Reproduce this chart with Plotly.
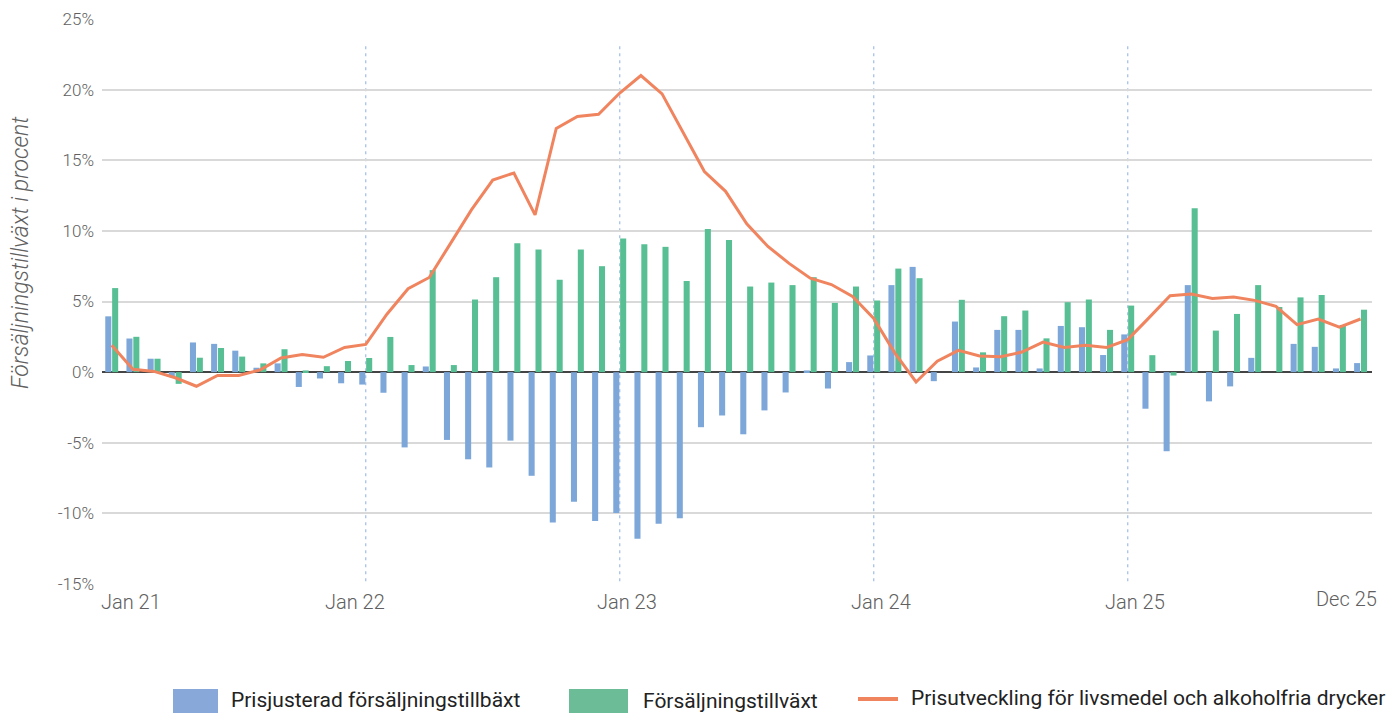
import plotly.graph_objects as go

months = [f"{m} {y}" for y in ["21", "22", "23", "24", "25"]
          for m in ["Jan", "Feb", "Mar", "Apr", "May", "Jun", "Jul", "Aug", "Sep", "Oct", "Nov", "Dec"]]

prisjusterad = [3.95, 2.38, 0.95, -0.30, 2.10, 2.00, 1.52, 0.31, 0.62, -1.05, -0.45, -0.79,
                -0.88, -1.46, -5.33, 0.40, -4.80, -6.17, -6.75, -4.85, -7.34, -10.64, -9.18, -10.54,
                -9.98, -11.80, -10.73, -10.35, -3.90, -3.07, -4.40, -2.71, -1.44, 0.12, -1.16, 0.71,
                1.18, 6.16, 7.45, -0.64, 3.58, 0.33, 2.99, 2.99, 0.26, 3.27, 3.18, 1.21,
                2.67, -2.59, -5.60, 6.16, -2.07, -1.01, 1.01, 0.00, 2.00, 1.79, 0.26, 0.64]

forsaljning = [5.95, 2.50, 0.95, -0.83, 1.02, 1.71, 1.10, 0.62, 1.62, 0.12, 0.42, 0.79,
               1.00, 2.49, 0.50, 7.22, 0.50, 5.14, 6.72, 9.12, 8.68, 6.54, 8.68, 7.50,
               9.46, 9.06, 8.87, 6.45, 10.13, 9.36, 6.06, 6.34, 6.16, 6.72, 4.90, 6.06,
               5.07, 7.33, 6.65, 0.00, 5.12, 1.40, 3.96, 4.36, 2.39, 4.95, 5.14, 2.99,
               4.71, 1.20, -0.24, 11.60, 2.94, 4.12, 6.16, 4.61, 5.29, 5.46, 3.34, 4.42]

prisutveckling = [1.90, 0.20, 0.05, -0.40, -1.00, -0.24, -0.24, 0.15, 1.00, 1.25, 1.05, 1.75,
                  1.96, 4.10, 5.90, 6.70, 9.10, 11.50, 13.60, 14.10, 11.13, 17.25, 18.10, 18.26,
                  19.76, 21.00, 19.70, 16.90, 14.20, 12.80, 10.50, 8.90, 7.70, 6.65, 6.20, 5.35,
                  3.80, 1.35, -0.70, 0.78, 1.54, 1.14, 1.09, 1.42, 2.13, 1.75, 1.90, 1.75,
                  2.30, 3.84, 5.41, 5.53, 5.22, 5.32, 5.08, 4.66, 3.36, 3.76, 3.18, 3.76]

x_tick_labels = ["Jan 21", "Jan 22", "Jan 23", "Jan 24", "Jan 25", "Dec 25"]
y_tick_values = [-15, -10, -5, 0, 5, 10, 15, 20, 25]
y_tick_labels = [f"{v}%" for v in y_tick_values]
legend_labels = ["Prisjusterad försäljningstillbäxt", "Försäljningstillväxt",
                 "Prisutveckling för livsmedel och alkoholfria drycker"]

BLUE = "#7DA7D9"
GREEN = "#57BF93"
ORANGE = "#F0845F"
BLUE_LEG = "#87A8D8"
GREEN_LEG = "#6DBC98"
FONT = "Roboto, 'Open Sans', sans-serif"
GREY = "#606060"

x = list(range(len(months)))

fig = go.Figure()
fig.add_trace(go.Bar(x=x, y=prisjusterad, name=legend_labels[0], marker_color=BLUE,
                     marker_line_width=0, hovertext=months))
fig.add_trace(go.Bar(x=x, y=forsaljning, name=legend_labels[1], marker_color=GREEN,
                     marker_line_width=0, hovertext=months))
fig.add_trace(go.Scatter(x=x, y=prisutveckling, name=legend_labels[2], mode="lines",
                         line=dict(color=ORANGE, width=3), hovertext=months))

# Page geometry: the page body has an 8px margin, so the figure is offset by 8px.
OFF = 8
W, H = 1394 - OFF, 714 - OFF
L, R, T, B = 102 - OFF, 1372 - OFF, 19 - OFF, 584 - OFF


def px_x(p):  # page pixel -> paper x
    return (p - OFF - L) / (R - L)


def px_y(p):  # page pixel -> paper y
    return (B - (p - OFF)) / (B - T)


shapes = []
for yr_idx in [12, 24, 36, 48]:
    shapes.append(dict(type="line", xref="x", yref="y", x0=yr_idx, x1=yr_idx, y0=-14.8, y1=23.2,
                       line=dict(color="#9FBDE8", width=1.2, dash="3px,4px"), layer="below"))

annotations = []
annotations.append(dict(text="Försäljningstillväxt i procent", xref="paper", yref="paper",
                        x=px_x(21), y=px_y(252), textangle=-90, showarrow=False,
                        font=dict(family=FONT, size=23, color=GREY, style="italic", weight=300),
                        xanchor="center", yanchor="middle"))
tick_pos = [0.92, 11.5, 24.35, 36.35, 48.35, 58.34]
tick_y = [602, 602, 602, 602, 602, 599]
for pos, ty, lab in zip(tick_pos, tick_y, x_tick_labels):
    annotations.append(dict(text=lab, xref="x", yref="paper", x=pos, y=px_y(ty),
                            showarrow=False, xanchor="center", yanchor="middle",
                            font=dict(family=FONT, size=20, color=GREY, weight=300)))

shapes.append(dict(type="rect", xref="paper", yref="paper", x0=px_x(173), x1=px_x(218),
                   y0=px_y(713), y1=px_y(689), fillcolor=BLUE_LEG, line_width=0))
shapes.append(dict(type="rect", xref="paper", yref="paper", x0=px_x(569), x1=px_x(628),
                   y0=px_y(713), y1=px_y(689), fillcolor=GREEN_LEG, line_width=0))
shapes.append(dict(type="line", xref="paper", yref="paper", x0=px_x(858), x1=px_x(898),
                   y0=px_y(699), y1=px_y(699), line=dict(color=ORANGE, width=4)))
for lx, ly, lab in zip([229, 641, 909], [700, 701, 698], legend_labels):
    annotations.append(dict(text=lab, xref="paper", yref="paper", x=px_x(lx), y=px_y(ly),
                            showarrow=False, xanchor="left", yanchor="middle",
                            font=dict(family=FONT, size=21, color="#222222")))

fig.update_layout(
    width=W, height=H,
    margin=dict(l=L, r=W - R, t=T, b=H - B, autoexpand=False),
    paper_bgcolor="white", plot_bgcolor="white",
    barmode="group", bargap=0.35, bargroupgap=0.12,
    showlegend=False,
    font=dict(family=FONT, color=GREY),
    shapes=shapes, annotations=annotations,
    xaxis=dict(range=[-0.46, 59.54], showgrid=False, showticklabels=False, zeroline=False,
               showline=False, ticks=""),
    yaxis=dict(range=[-15, 25], tickvals=y_tick_values, ticktext=y_tick_labels,
               showgrid=True, gridcolor="#D9D9D9", gridwidth=1.5,
               zeroline=True, zerolinecolor="#444444", zerolinewidth=2,
               showline=False, ticks="", ticklabelstandoff=7,
               tickfont=dict(family=FONT, size=17, color=GREY, weight=300)),
)

fig.write_html("out.html")
